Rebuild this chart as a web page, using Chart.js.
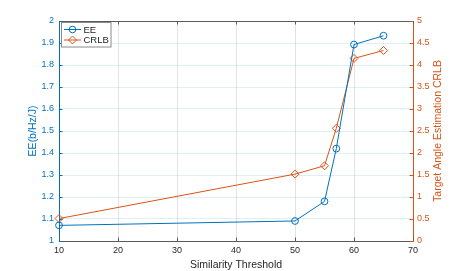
<!DOCTYPE html>
<html>
<head>
<meta charset="utf-8">
<script src="https://cdn.jsdelivr.net/npm/chart.js@4/dist/chart.umd.min.js"></script>
<style>
html,body{margin:0;padding:0;background:#fff;}
#wrap{width:457px;height:271px;position:relative;}
</style>
</head>
<body>
<div id="wrap"><canvas id="c" width="457" height="271"></canvas></div>
<script>
const thresholds = [10, 50, 55, 57, 60, 65];
const eeValues = [1.071, 1.091, 1.18, 1.42, 1.893, 1.933];
const crlbValues = [0.51, 1.52, 1.71, 2.56, 4.15, 4.33];
const xTickValues = [10, 20, 30, 40, 50, 60, 70];
const eeTickValues = [1, 1.1, 1.2, 1.3, 1.4, 1.5, 1.6, 1.7, 1.8, 1.9, 2];
const crlbTickValues = [0, 0.5, 1, 1.5, 2, 2.5, 3, 3.5, 4, 4.5, 5];
const seriesNames = ['EE', 'CRLB'];
const xTitle = 'Similarity Threshold';
const leftTitle = 'EE(b/Hz/J)';
const rightTitle = 'Target Angle Estimation CRLB';

const BLUE = '#0072BD', ORANGE = '#D95319', DARK = '#262626';
const FONT = "'Liberation Sans', Arial, Helvetica, sans-serif";

const decor = {
  id: 'decor',
  afterDraw(chart) {
    const {ctx, chartArea: a, scales} = chart;
    ctx.save();
    ctx.lineWidth = 1;
    // top border
    ctx.strokeStyle = '#5a5a5a';
    ctx.beginPath();
    ctx.moveTo(a.left, Math.round(a.top) + 0.5);
    ctx.lineTo(a.right, Math.round(a.top) + 0.5);
    ctx.stroke();
    // x ticks inward (bottom & top)
    const tl = 3.5;
    ctx.beginPath();
    xTickValues.forEach(v => {
      const px = Math.round(scales.x.getPixelForValue(v)) + 0.5;
      ctx.moveTo(px, a.bottom); ctx.lineTo(px, a.bottom - tl);
      ctx.moveTo(px, a.top); ctx.lineTo(px, a.top + tl);
    });
    ctx.stroke();
    // left ticks
    ctx.strokeStyle = BLUE;
    ctx.beginPath();
    eeTickValues.forEach(v => {
      const py = Math.round(scales.y.getPixelForValue(v)) + 0.5;
      ctx.moveTo(a.left, py); ctx.lineTo(a.left + tl, py);
    });
    ctx.stroke();
    // right ticks
    ctx.strokeStyle = ORANGE;
    ctx.beginPath();
    crlbTickValues.forEach(v => {
      const py = Math.round(scales.y1.getPixelForValue(v)) + 0.5;
      ctx.moveTo(a.right, py); ctx.lineTo(a.right - tl, py);
    });
    ctx.stroke();
    // right title (reads bottom to top)
    ctx.fillStyle = ORANGE;
    ctx.font = "10.5px " + FONT;
    ctx.textAlign = 'center';
    ctx.textBaseline = 'middle';
    ctx.translate(438, (a.top + a.bottom) / 2);
    ctx.rotate(-Math.PI / 2);
    ctx.fillText(rightTitle, 0, 0);
    ctx.setTransform(1, 0, 0, 1, 0, 0);
    // legend box
    const bx = 61.5, by = 22.5, bw = 49.5, bh = 24.5;
    ctx.fillStyle = '#fff';
    ctx.fillRect(bx, by, bw, bh);
    ctx.strokeStyle = '#8a8a8a';
    ctx.strokeRect(bx, by, bw, bh);
    const rows = [
      {name: seriesNames[0], color: BLUE, style: 'circle', y: 29.5},
      {name: seriesNames[1], color: ORANGE, style: 'diamond', y: 40}
    ];
    rows.forEach(r => {
      ctx.strokeStyle = r.color;
      ctx.lineWidth = 1;
      ctx.beginPath();
      ctx.moveTo(64, r.y); ctx.lineTo(81, r.y);
      ctx.stroke();
      ctx.beginPath();
      if (r.style === 'circle') {
        ctx.arc(72.5, r.y, 3.3, 0, Math.PI * 2);
      } else {
        ctx.moveTo(72.5, r.y - 4); ctx.lineTo(76.5, r.y); ctx.lineTo(72.5, r.y + 4); ctx.lineTo(68.5, r.y); ctx.closePath();
      }
      ctx.stroke();
      ctx.fillStyle = DARK;
      ctx.font = "9.5px " + FONT;
      ctx.textAlign = 'left';
      ctx.textBaseline = 'middle';
      ctx.fillText(r.name, 83.5, r.y + 0.5);
    });
    ctx.restore();
  }
};

new Chart(document.getElementById('c'), {
  type: 'line',
  data: {
    datasets: [
      {
        label: seriesNames[0],
        data: thresholds.map((x, i) => ({x: x, y: eeValues[i]})),
        borderColor: BLUE,
        backgroundColor: 'rgba(0,0,0,0)',
        borderWidth: 1,
        pointStyle: 'circle',
        pointRadius: 3.4,
        pointBorderWidth: 1,
        pointBorderColor: BLUE,
        pointBackgroundColor: 'rgba(0,0,0,0)',
        tension: 0,
        yAxisID: 'y'
      },
      {
        label: seriesNames[1],
        data: thresholds.map((x, i) => ({x: x, y: crlbValues[i]})),
        borderColor: ORANGE,
        backgroundColor: 'rgba(0,0,0,0)',
        borderWidth: 1,
        pointStyle: 'rectRot',
        pointRadius: 4,
        pointBorderWidth: 1,
        pointBorderColor: ORANGE,
        pointBackgroundColor: 'rgba(0,0,0,0)',
        tension: 0,
        yAxisID: 'y1'
      }
    ]
  },
  options: {
    responsive: false,
    animation: false,
    clip: false,
    layout: {padding: {top: 21, left: 0, right: 0, bottom: 0}},
    plugins: {legend: {display: false}, tooltip: {enabled: false}},
    scales: {
      x: {
        type: 'linear',
        position: 'bottom',
        min: 10, max: 70,
        afterBuildTicks: s => { s.ticks = xTickValues.map(v => ({value: v})); },
        afterFit: s => { s.height = 30; },
        ticks: {color: DARK, font: {size: 9, family: FONT}, padding: 4, maxRotation: 0},
        grid: {color: '#e3e3e3', drawTicks: false, lineWidth: 1},
        border: {color: '#5a5a5a', width: 1},
        title: {display: true, text: xTitle, color: DARK, font: {size: 10.5, family: FONT}, padding: {top: 0, bottom: 0}}
      },
      y: {
        type: 'linear',
        position: 'left',
        min: 1, max: 2,
        afterBuildTicks: s => { s.ticks = eeTickValues.map(v => ({value: v})); },
        afterFit: s => { s.width = 59; },
        ticks: {color: BLUE, font: {size: 9, family: FONT}, padding: 5, callback: v => String(v)},
        grid: {color: 'rgba(0,114,189,0.12)', drawTicks: false, lineWidth: 1},
        border: {color: BLUE, width: 1},
        title: {display: true, text: leftTitle, color: BLUE, font: {size: 10.5, family: FONT}, padding: {top: 27, bottom: 0}}
      },
      y1: {
        type: 'linear',
        position: 'right',
        min: 0, max: 5,
        afterBuildTicks: s => { s.ticks = crlbTickValues.map(v => ({value: v})); },
        afterFit: s => { s.width = 44; },
        ticks: {color: ORANGE, font: {size: 9, family: FONT}, padding: 4, callback: v => String(v)},
        grid: {drawOnChartArea: false, drawTicks: false},
        border: {color: ORANGE, width: 1}
      }
    }
  },
  plugins: [decor]
});
</script>
</body>
</html>
